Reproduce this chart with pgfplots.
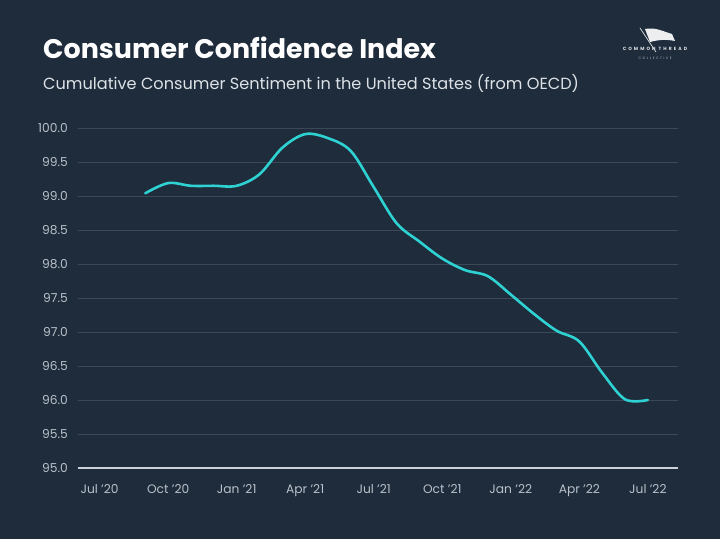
\documentclass[border=0pt]{standalone}
\usepackage{pgfplots}
\pgfplotsset{compat=1.18}
\usepackage{fontspec}
\setmainfont{Poppins}

\definecolor{bg}{HTML}{1E2C3C}
\definecolor{gridc}{HTML}{3A4858}
\definecolor{linec}{HTML}{2FD2D2}
\definecolor{tickc}{HTML}{BAC1C9}
\definecolor{subc}{HTML}{DDE2E7}
\definecolor{basec}{HTML}{CDD2D8}

\begin{document}
\begin{tikzpicture}[x=1bp,y=1bp]
\fill[bg] (0,0) rectangle (720,539);
\useasboundingbox (0,0) rectangle (720,539);

% headings
\node[anchor=base west, text=white, inner sep=0pt,
      font=\bfseries\fontsize{27}{32}\selectfont] at (43,480) {Consumer Confidence Index};
\node[anchor=base west, text=subc, inner sep=0pt,
      font=\fontsize{16.2}{19}\selectfont] at (43,449) {Cumulative Consumer Sentiment in the United States (from OECD)};

% logo
\fill[white!92!bg] (645,510) .. controls (655,512) and (662,508) .. (672,505)
   -- (675,498) .. controls (665,500) and (658,499) .. (650,497) -- cycle;
\draw[white!80!bg, line width=0.8bp] (640,511) -- (656,487);
\node[text=white!85!bg, inner sep=0pt, font=\bfseries\fontsize{4.6}{5}\selectfont\addfontfeature{LetterSpace=45}]
   at (655,490) {COMMON THREAD};
\node[text=white!70!bg, inner sep=0pt, font=\fontsize{3.4}{4}\selectfont\addfontfeature{LetterSpace=45}]
   at (655,481) {COLLECTIVE};

\begin{axis}[
  at={(78bp,71bp)}, anchor=south west,
  scale only axis, width=600bp, height=340bp,
  xmin=-0.946, xmax=25.32, ymin=95, ymax=100,
  axis lines*=left,
  y axis line style={draw=none},
  x axis line style={draw=basec, line width=2bp, -},
  major tick length=0pt,
  tick style={draw=none},
  ytick={95,95.5,96,96.5,97,97.5,98,98.5,99,99.5,100},
  xtick={0,3,6,9,12,15,18,21,24},
  xticklabels={Jul '20,Oct '20,Jan '21,Apr '21,Jul '21,Oct '21,Jan '22,Apr '22,Jul '22},
  ymajorgrids,
  grid style={draw=gridc, line width=0.8bp},
  /pgf/number format/assume math mode=true,
  yticklabel={\pgfmathprintnumber[fixed,fixed zerofill,precision=1]{\tick}},
  yticklabel style={text=tickc, font=\fontsize{12.3}{14}\selectfont, inner sep=0pt, xshift=-10bp},
  xticklabel style={text=tickc, font=\fontsize{12.3}{14}\selectfont, inner sep=0pt, yshift=-16bp},
  clip=false,
]
% monthly index values, months counted from Jul 2020
\addplot[linec, line width=2.6bp, smooth, tension=0.55, line cap=round] coordinates {
  (2,99.04) (3,99.19) (4,99.15) (5,99.15) (6,99.15) (7,99.32) (8,99.71)
  (9,99.91) (10,99.85) (11,99.66) (12,99.13) (13,98.60) (14,98.33)
  (15,98.08) (16,97.91) (17,97.82) (18,97.55) (19,97.27) (20,97.02)
  (21,96.86) (22,96.40) (23,96.01) (24,96.00)
};
\end{axis}
\end{tikzpicture}
\end{document}
